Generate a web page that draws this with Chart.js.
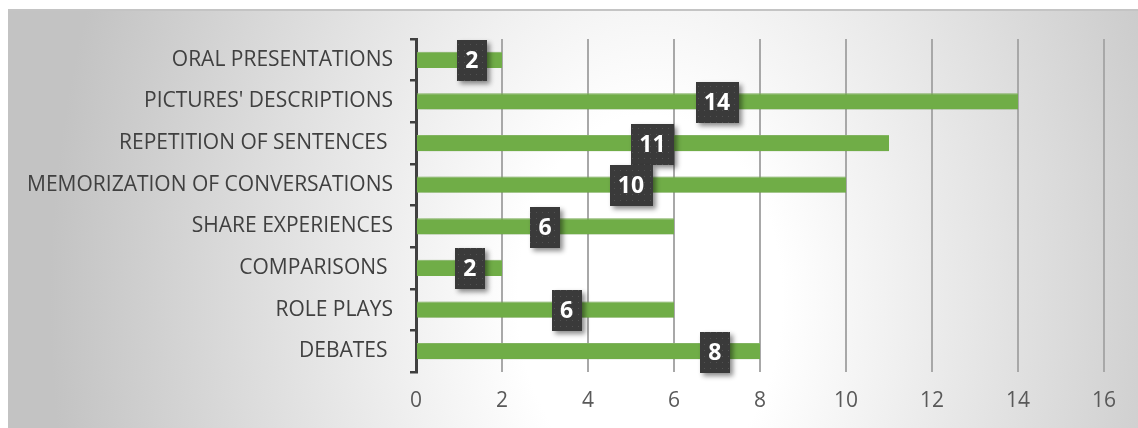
<!DOCTYPE html>
<html>
<head>
<meta charset="utf-8">
<script src="https://cdn.jsdelivr.net/npm/chart.js@4.4.1/dist/chart.umd.min.js"></script>
<style>
  html, body { margin: 0; padding: 0; background: #fff; }
</style>
</head>
<body>
<canvas id="methods" width="1138" height="428"></canvas>
<script>
// speaking activities and how many times each was used
const categories = [
  'ORAL PRESENTATIONS',
  "PICTURES' DESCRIPTIONS",
  'REPETITION OF SENTENCES ',
  'MEMORIZATION OF CONVERSATIONS',
  'SHARE EXPERIENCES',
  'COMPARISONS ',
  'ROLE PLAYS',
  'DEBATES '
]
const counts = [2, 14, 11, 10, 6, 2, 6, 8]
const xTicks = [0, 2, 4, 6, 8, 10, 12, 14, 16]
// where each value box sits along its bar, in axis units
const labelAt = [1.3, 7, 5.5, 5, 3, 1.25, 3.5, 6.95]

const FONT = '"Open Sans", "Noto Sans", sans-serif'

// dotted dark fill for the value boxes
function dotPattern (ctx) {
  const c = document.createElement('canvas')
  c.width = 6
  c.height = 6
  const p = c.getContext('2d')
  p.fillStyle = '#3a3a3a'
  p.fillRect(0, 0, 6, 6)
  p.fillStyle = '#525252'
  p.fillRect(2, 2, 1, 1)
  return ctx.createPattern(c, 'repeat')
}

const panelBg = {
  id: 'panelBg',
  beforeDraw (chart) {
    const ctx = chart.ctx
    ctx.save()
    ctx.fillStyle = '#ffffff'
    ctx.fillRect(0, 0, chart.width, chart.height)
    const x0 = 8, y0 = 10, w = chart.width - x0, h = chart.height - y0
    const cx = 650, cy = 300, r = 600, sy = 1.4
    ctx.translate(cx, cy)
    ctx.scale(1, sy)
    const g = ctx.createRadialGradient(0, 0, 0, 0, 0, r)
    g.addColorStop(0, '#ffffff')
    g.addColorStop(0.22, '#ffffff')
    g.addColorStop(1, '#c3c3c3')
    ctx.fillStyle = g
    ctx.fillRect(x0 - cx, (y0 - cy) / sy, w, h / sy)
    ctx.restore()
    ctx.save()
    ctx.strokeStyle = '#c4c4c4'
    ctx.lineWidth = 2
    ctx.beginPath()
    ctx.moveTo(x0, y0)
    ctx.lineTo(chart.width, y0)
    ctx.stroke()
    ctx.restore()
  }
}

// soft shadow behind the bars
const barShadow = {
  id: 'barShadow',
  beforeDatasetsDraw (chart) {
    const ctx = chart.ctx
    ctx.save()
    ctx.shadowColor = 'rgba(0, 0, 0, 0.22)'
    ctx.shadowBlur = 18
    ctx.shadowOffsetX = 2
    ctx.shadowOffsetY = 3
  },
  afterDatasetsDraw (chart) {
    chart.ctx.restore()
  }
}

const valueBoxes = {
  id: 'valueBoxes',
  afterDatasetsDraw (chart) {
    const ctx = chart.ctx
    const xScale = chart.scales.x
    const meta = chart.getDatasetMeta(0)
    const fill = dotPattern(ctx)
    ctx.font = 'bold 23px ' + FONT
    meta.data.forEach((bar, i) => {
      const text = String(counts[i])
      const x = xScale.getPixelForValue(labelAt[i])
      const y = bar.y + 1
      const bw = Math.round(ctx.measureText(text).width + 17)
      const bh = 41
      ctx.save()
      ctx.shadowColor = 'rgba(0, 0, 0, 0.45)'
      ctx.shadowBlur = 5
      ctx.shadowOffsetX = 3
      ctx.shadowOffsetY = 3
      ctx.fillStyle = fill
      ctx.fillRect(Math.round(x - bw / 2), Math.round(y - bh / 2), bw, bh)
      ctx.restore()
      ctx.fillStyle = '#ffffff'
      ctx.textAlign = 'center'
      ctx.textBaseline = 'middle'
      ctx.fillText(text, x, y + 1)
    })
  }
}

new Chart(document.getElementById('methods'), {
  type: 'bar',
  data: {
    labels: categories,
    datasets: [{
      data: counts,
      backgroundColor: '#70ad47',
      borderColor: '#8cc168',
      borderWidth: { top: 1, bottom: 0, left: 0, right: 0 },
      borderSkipped: false,
      barPercentage: 0.39,
      categoryPercentage: 1
    }]
  },
  options: {
    indexAxis: 'y',
    responsive: false,
    animation: false,
    layout: { padding: { top: 39, right: 34, left: 0, bottom: 0 } },
    plugins: {
      legend: { display: false },
      tooltip: { enabled: false }
    },
    scales: {
      x: {
        min: xTicks[0],
        max: xTicks[xTicks.length - 1],
        afterBuildTicks (scale) {
          scale.ticks = xTicks.map(v => ({ value: v }))
        },
        afterFit (scale) { scale.height = 56 },
        grid: {
          color: ctx => ctx.tick && ctx.tick.value === 0 ? 'rgba(0,0,0,0)' : '#a8a8a8',
          lineWidth: 2,
          drawTicks: false
        },
        border: { display: false },
        ticks: {
          color: '#595959',
          font: { family: FONT, size: 21 },
          padding: 16
        }
      },
      y: {
        afterFit (scale) { scale.width = 416 },
        grid: {
          offset: true,
          drawOnChartArea: false,
          drawTicks: true,
          tickLength: 6,
          color: '#404040',
          lineWidth: 2.5
        },
        border: { display: true, color: '#404040', width: 3 },
        ticks: {
          color: '#404040',
          font: { family: FONT, size: 21 },
          padding: 17
        }
      }
    }
  },
  plugins: [panelBg, barShadow, valueBoxes]
})
</script>
</body>
</html>
